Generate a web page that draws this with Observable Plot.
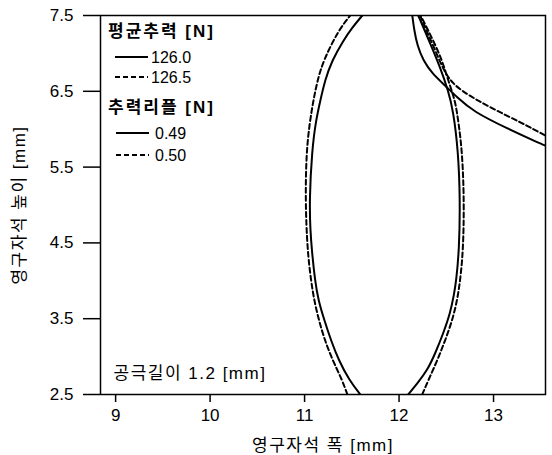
<!DOCTYPE html>
<html>
<head>
<meta charset="utf-8">
<script src="https://cdn.jsdelivr.net/npm/d3@7"></script>
<script src="https://cdn.jsdelivr.net/npm/@observablehq/plot@0.6"></script>
<style>
  html, body { margin: 0; padding: 0; background: #fff; }
  #chart { position: relative; width: 552px; height: 455px; }
  svg { font-family: "Liberation Sans", Arial, "Noto Sans CJK KR", sans-serif; }
  g[aria-label="x-axis label"] text, g[aria-label="y-axis label"] text { font-size: 17px; letter-spacing: 1.5px; }
  g[aria-label="x-axis tick"] path, g[aria-label="y-axis tick"] path { stroke-width: 1.5; }
</style>
</head>
<body>
<div id="chart"></div>
<script>
// Ripple 0.49 N contour (solid ellipse), left and right branches
const ripple049LeftX  = [11.590, 11.475, 11.362, 11.280, 11.210, 11.146, 11.110, 11.077, 11.061, 11.051, 11.078, 11.120, 11.167, 11.215, 11.290, 11.410, 11.505, 11.611];
const ripple049LeftY  = [2.500, 2.685, 2.948, 3.212, 3.476, 3.740, 4.004, 4.400, 4.663, 5.059, 5.719, 6.115, 6.379, 6.642, 6.906, 7.170, 7.342, 7.500];
const ripple049RightX = [12.097, 12.193, 12.298, 12.383, 12.467, 12.541, 12.584, 12.605, 12.636, 12.647, 12.626, 12.573, 12.520, 12.436, 12.330, 12.203];
const ripple049RightY = [2.500, 2.645, 2.817, 3.041, 3.305, 3.569, 3.832, 4.004, 4.400, 5.059, 5.719, 6.247, 6.511, 6.814, 7.131, 7.500];
// Ripple 0.50 N contour (dashed ellipse)
const ripple050LeftX  = [11.453, 11.400, 11.298, 11.215, 11.152, 11.102, 11.068, 11.030, 11.008, 11.019, 11.058, 11.093, 11.136, 11.199, 11.357, 11.484];
const ripple050LeftY  = [2.500, 2.685, 2.948, 3.212, 3.476, 3.740, 4.004, 4.400, 5.059, 5.719, 6.115, 6.379, 6.642, 6.906, 7.302, 7.500];
const ripple050RightX = [12.245, 12.309, 12.404, 12.488, 12.563, 12.615, 12.647, 12.679, 12.689, 12.668, 12.626, 12.594, 12.520, 12.457, 12.362, 12.256, 12.224];
const ripple050RightY = [2.500, 2.685, 2.948, 3.212, 3.476, 3.740, 4.004, 4.400, 5.059, 5.719, 6.115, 6.379, 6.642, 6.906, 7.170, 7.434, 7.500];
// Mean thrust contours (upper right)
const thrust1260X = [12.140, 12.161, 12.193, 12.256, 12.351, 12.488, 12.615, 12.785, 13.144, 13.493, 13.546];
const thrust1260Y = [7.500, 7.302, 7.104, 6.906, 6.735, 6.577, 6.418, 6.234, 6.009, 5.811, 5.785];
const thrust1265X = [12.224, 12.288, 12.362, 12.436, 12.520, 12.647, 12.964, 13.313, 13.546];
const thrust1265Y = [7.500, 7.302, 7.104, 6.880, 6.669, 6.511, 6.286, 6.075, 5.917];

const xTicks = [9, 10, 11, 12, 13];
const yTicks = [2.5, 3.5, 4.5, 5.5, 6.5, 7.5];

const thrustTitle = "평균추력 [N]";
const thrustLabels = ["126.0", "126.5"];
const rippleTitle = "추력리플 [N]";
const rippleLabels = ["0.49", "0.50"];
const gapNote = "공극길이 1.2 [mm]";
const xLabel = "영구자석 폭 [mm]";
const yLabel = "영구자석 높이 [mm]";

function rows(name, xs, ys, dashed) {
  return xs.map((x, i) => ({curve: name, x, y: ys[i], dashed}));
}
const data = [
  ...rows("r049L", ripple049LeftX, ripple049LeftY, false),
  ...rows("r049R", ripple049RightX, ripple049RightY, false),
  ...rows("r050L", ripple050LeftX, ripple050LeftY, true),
  ...rows("r050R", ripple050RightX, ripple050RightY, true),
  ...rows("t1260", thrust1260X, thrust1260Y, false),
  ...rows("t1265", thrust1265X, thrust1265Y, true)
];

const plot = Plot.plot({
  width: 552,
  height: 455,
  marginTop: 15,
  marginLeft: 100,
  marginRight: 7,
  marginBottom: 61,
  style: {fontSize: "17px", fontFamily: "'Liberation Sans', Arial, 'Noto Sans CJK KR', sans-serif", background: "#fff", color: "#000"},
  x: {domain: [8.84, 13.55], ticks: xTicks, tickFormat: d => String(d), tickSize: 8, tickPadding: 6, label: xLabel, labelArrow: "none", labelAnchor: "center", labelOffset: 56},
  y: {domain: [2.5, 7.5], ticks: yTicks, tickFormat: d => d.toFixed(1), tickSize: 17, tickPadding: 10, label: yLabel, labelArrow: "none", labelAnchor: "center", labelOffset: 88},
  marks: [
    Plot.line(data.filter(d => !d.dashed), {x: "x", y: "y", z: "curve", stroke: "#000", strokeWidth: 2, curve: "basis", clip: true}),
    Plot.line(data.filter(d => d.dashed), {x: "x", y: "y", z: "curve", stroke: "#000", strokeWidth: 2, strokeDasharray: "5,3", curve: "basis", clip: true}),
    Plot.text([gapNote], {frameAnchor: "bottom-left", dx: 13, dy: -16, textAnchor: "start", fontSize: 17, fill: "#000", style: "letter-spacing:1.5px"}),
    Plot.frame({stroke: "#000", strokeWidth: 1.5})
  ]
});
document.getElementById("chart").appendChild(plot);

const svg = d3.select(plot);
// strip any automatic label arrows
svg.selectAll('g[aria-label="x-axis label"] text').text(xLabel);
svg.selectAll('g[aria-label="y-axis label"] text').text(yLabel);
svg.selectAll('g[aria-label="text"] text').style("letter-spacing", "1.5px");

// Legend inside the frame (top-left)
const lg = svg.append("g").attr("font-size", 16).attr("fill", "#000").attr("text-anchor", "start");
const entries = [
  {type: "title", text: thrustTitle, y: 31},
  {type: "item", text: thrustLabels[0], y: 57, dash: null, lx0: 115, lx1: 148, tx: 151},
  {type: "item", text: thrustLabels[1], y: 77, dash: "5,3", lx0: 115, lx1: 148, tx: 151},
  {type: "title", text: rippleTitle, y: 107},
  {type: "item", text: rippleLabels[0], y: 133, dash: null, lx0: 116, lx1: 149, tx: 155},
  {type: "item", text: rippleLabels[1], y: 155, dash: "5,3", lx0: 116, lx1: 149, tx: 155}
];
for (const e of entries) {
  if (e.type === "title") {
    lg.append("text").attr("x", 108).attr("y", e.y).attr("dy", "0.35em").attr("font-weight", "bold")
      .attr("font-size", 17).style("letter-spacing", "2px").text(e.text);
  } else {
    const l = lg.append("line").attr("x1", e.lx0).attr("x2", e.lx1).attr("y1", e.y).attr("y2", e.y)
      .attr("stroke", "#000").attr("stroke-width", 2);
    if (e.dash) l.attr("stroke-dasharray", e.dash);
    lg.append("text").attr("x", e.tx).attr("y", e.y).attr("dy", "0.35em").text(e.text);
  }
}
</script>
</body>
</html>
